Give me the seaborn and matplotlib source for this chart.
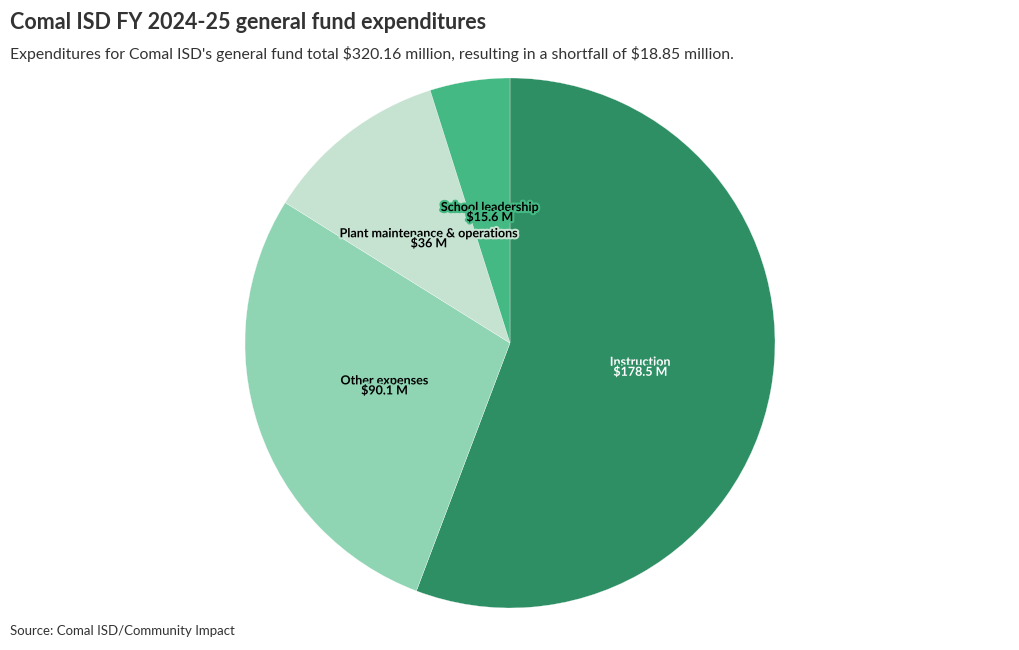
import numpy as np
import matplotlib
matplotlib.use("Agg")
import matplotlib.pyplot as plt
import matplotlib.patheffects as pe
import seaborn as sns

# data
categories = ["Instruction", "Other expenses", "Plant maintenance & operations", "School leadership"]
values = [178.5, 90.1, 36, 15.6]
value_labels = [r"\$178.5 M", r"\$90.1 M", r"\$36 M", r"\$15.6 M"]
colors = ["#2e8f64", "#8fd5b4", "#c6e2d1", "#44b983"]
text_colors = ["white", "black", "black", "black"]

sns.set_theme(style="white")
plt.rcParams['font.family'] = ['Lato', 'DejaVu Sans']

fig = plt.figure(figsize=(10.2, 6.5), dpi=100)
ax = fig.add_axes([245/1020, 42/650, 530/1020, 530/650])

wedges, _ = ax.pie(values, colors=colors, startangle=90, counterclock=False,
                   radius=1, wedgeprops=dict(edgecolor="white", linewidth=0.2))
ax.set_xlim(-1, 1)
ax.set_ylim(-1, 1)
ax.set_aspect("equal")
ax.axis("off")

# labels at half radius, halo in slice colour
for w, cat, lab, col, tc in zip(wedges, categories, value_labels, colors, text_colors):
    ang = np.deg2rad((w.theta1 + w.theta2) / 2)
    x, y = 0.5 * np.cos(ang), 0.5 * np.sin(ang)
    ax.text(x, y, cat + "\n" + lab, ha="center", va="center", fontsize=9,
            fontweight="bold", color=tc, linespacing=0.8,
            path_effects=[pe.withStroke(linewidth=3, foreground=col)])

fig.text(10/1020, 1 - 12/650, "Comal ISD FY 2024-25 general fund expenditures",
         fontsize=15.5, fontweight="bold", color="#333333", va="top", ha="left")
fig.text(10/1020, 1 - 46/650,
         r"Expenditures for Comal ISD's general fund total \$320.16 million, resulting in a shortfall of \$18.85 million.",
         fontsize=11.3, color="#333333", va="top", ha="left")
fig.text(10/1020, 1 - 631/650, "Source: Comal ISD/Community Impact",
         fontsize=9.5, color="#333333", va="center", ha="left")

fig.savefig("out.png", dpi=100)
